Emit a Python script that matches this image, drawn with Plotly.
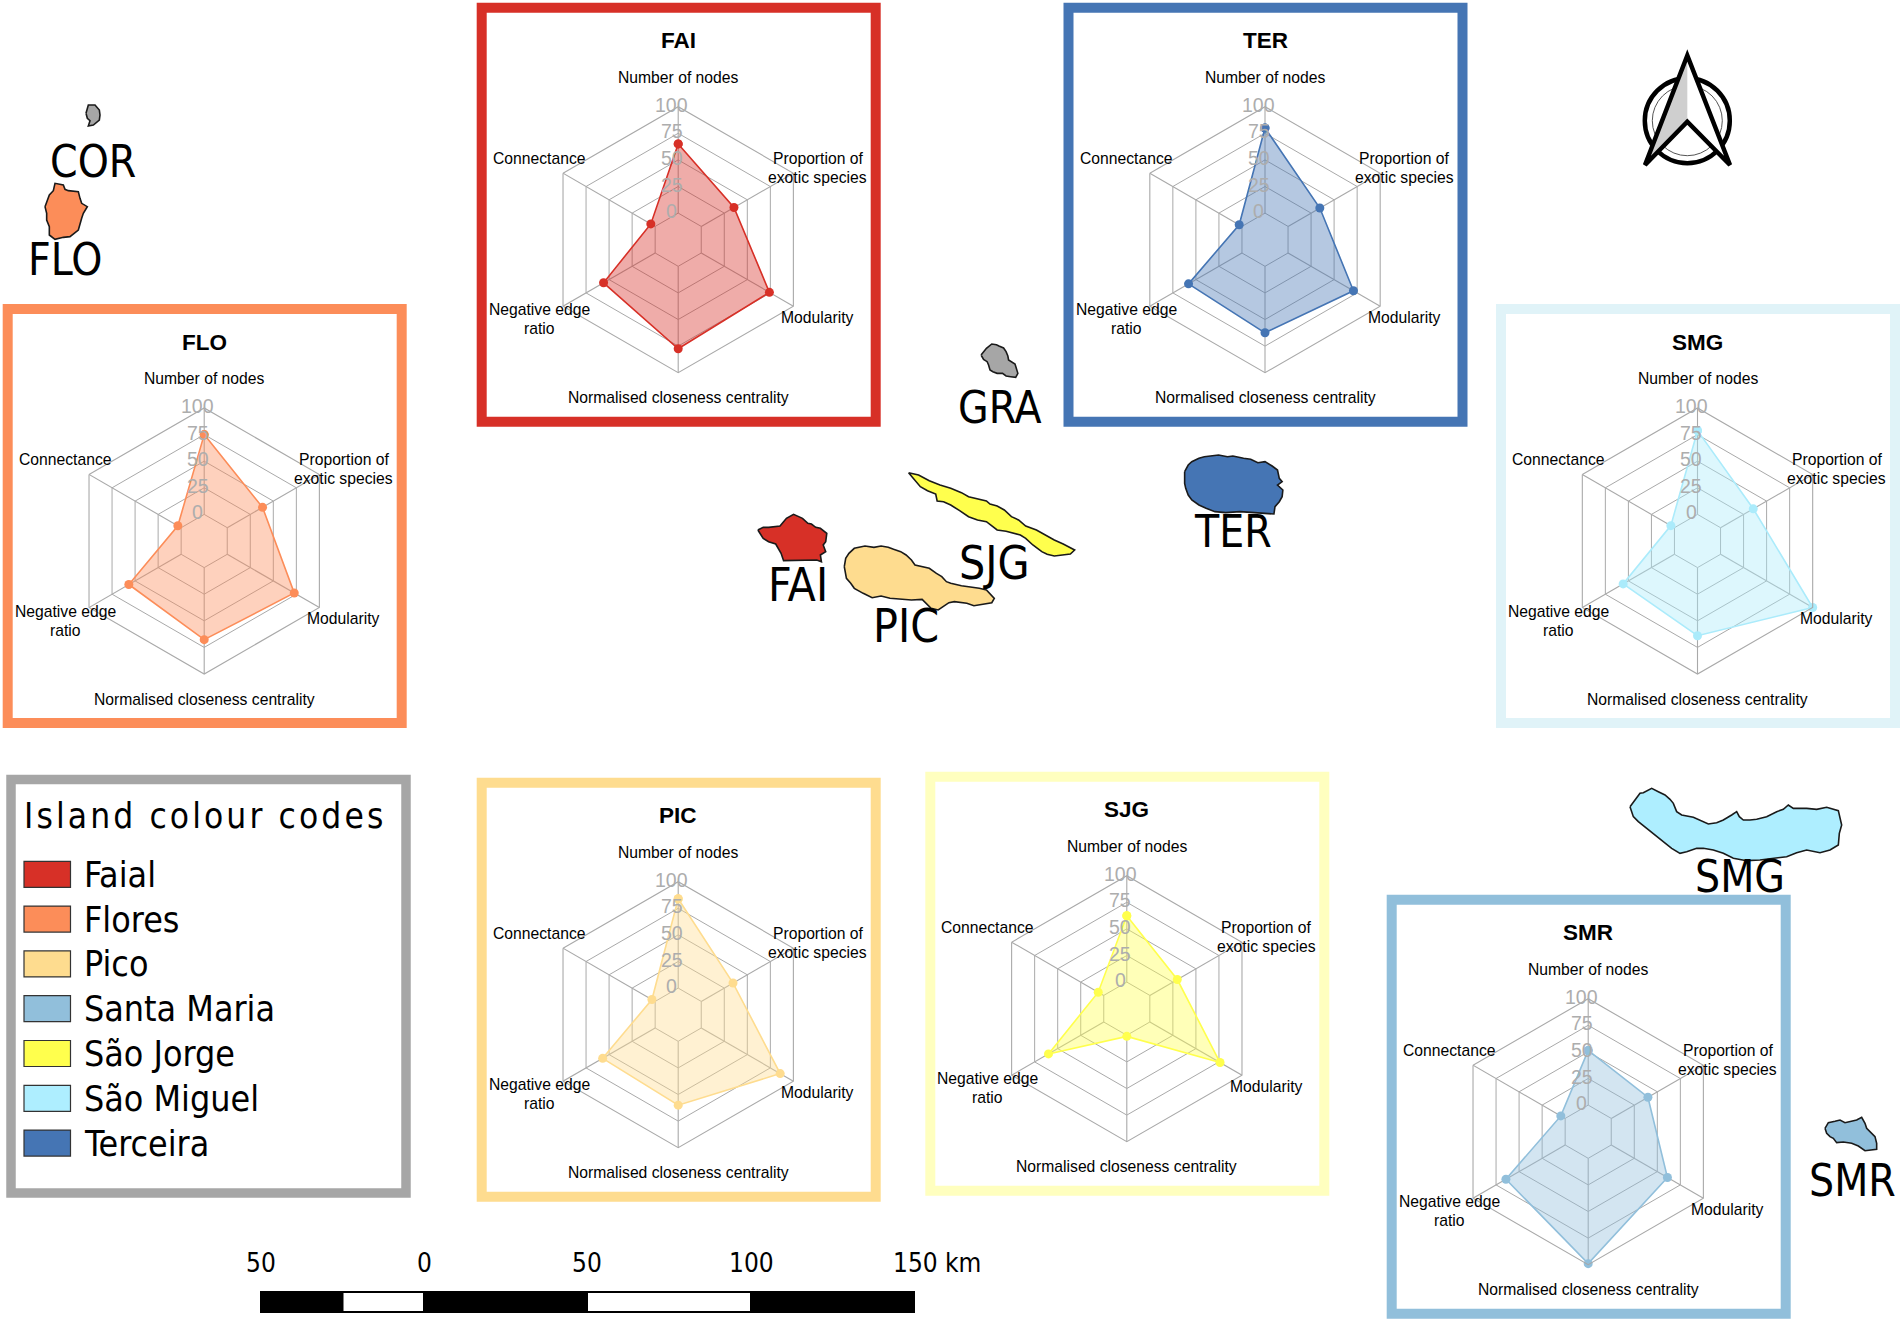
import plotly.graph_objects as go

W, H = 1902, 1320

# ---- radar data ----
axes_names = ["Number of nodes", "Proportion of exotic species", "Modularity",
              "Normalised closeness centrality", "Negative edge ratio", "Connectance"]
axis_lines = [["Number of nodes"], ["Proportion of", "exotic species"], ["Modularity"],
              ["Normalised closeness centrality"], ["Negative edge", "ratio"], ["Connectance"]]
radial_ticks = [0, 25, 50, 75, 100]

island_codes = ["FAI", "TER", "FLO", "SMG", "PIC", "SJG", "SMR"]
FAI_values = [65, 35.5, 74, 77.5, 56, 4.7]
TER_values = [80, 34.5, 71, 62.5, 58, 3]
FLO_values = [75, 38.3, 72.7, 67.7, 56.8, 3.6]
SMG_values = [78.7, 35.5, 100, 64, 55.7, 3.9]
PIC_values = [84, 34.5, 85.7, 60, 57, 3.5]
SJG_values = [62.4, 29.8, 76.2, 1, 60, 6]
SMR_values = [51.4, 39.8, 61, 99, 64.3, 4.7]

values = dict(FAI=FAI_values, TER=TER_values, FLO=FLO_values, SMG=SMG_values,
              PIC=PIC_values, SJG=SJG_values, SMR=SMR_values)
frame_colour = dict(FAI="#d73027", TER="#4575b4", FLO="#fc8d59", SMG="#e0f3f8",
                    PIC="#fedc8f", SJG="#ffffbf", SMR="#91bfdb")
radar_colour = dict(FAI="#d73027", TER="#4575b4", FLO="#fc8d59", SMG="#abebfb",
                    PIC="#fedc8f", SJG="#ffff4d", SMR="#91bfdb")
frame_left = dict(FAI=476.7, TER=1063.5, FLO=2.7, SMG=1496, PIC=476.7, SJG=925.3, SMR=1386.7)
frame_top = dict(FAI=2.7, TER=2.7, FLO=304, SMG=304, PIC=777.7, SJG=771.7, SMR=894.7)
FRAME_W, FRAME_H, FRAME_LW = 404, 424, 10
R = 133
GRID = "#a9a9a9"
# the zero ring sits one ring away from the radar centre
ZERO_RING = 25

# ---- legend and scale ----
legend_names = ["Faial", "Flores", "Pico", "Santa Maria", "São Jorge", "São Miguel", "Terceira"]
legend_colours = ["#d73027", "#fc8d59", "#fedc8f", "#91bfdb", "#ffff4d", "#aeeeff", "#4575b4"]
scale_labels = ["50", "0", "50", "100"]
scale_label_x = [261, 424.5, 587, 751]

# ---- island outlines, in map pixels ----
def from_crop(x0, y0, sx, sy, pts):
    return [x0 + p[0] / sx for p in pts], [y0 + p[1] / sy for p in pts]

GRA_xy = from_crop(740, 320, 2.8, 3, [(675,105),(682,95),(690,85),(705,72),(718,74),(725,78),(738,84),(745,95),(750,108),(752,120),(765,128),(770,132),(778,160),(772,172),(758,170),(745,168),(735,160),(720,160),(708,155),(700,150),(696,135),(692,125),(682,118)])
SJG_xy = from_crop(740, 320, 2.8, 3, [(472,458),(500,465),(530,482),(560,495),(590,505),(620,518),(640,530),(660,535),(690,543),(700,552),(720,558),(740,570),(760,590),(780,600),(800,618),(830,630),(855,645),(880,660),(905,672),(937,690),(925,702),(900,705),(880,708),(860,703),(845,695),(820,675),(800,655),(785,645),(770,640),(745,634),(720,630),(705,618),(690,605),(665,600),(640,590),(615,572),(590,555),(570,545),(552,543),(548,522),(525,512),(505,500),(488,480)])
FAI_xy = from_crop(740, 320, 2.8, 3, [(50,630),(65,622),(80,622),(98,620),(112,618),(122,605),(130,595),(150,583),(165,590),(175,595),(190,610),(200,612),(212,622),(225,625),(243,640),(240,655),(240,665),(233,675),(240,695),(225,705),(228,725),(215,720),(170,722),(122,722),(115,700),(110,690),(100,672),(80,665),(65,655)])
PIC_xy = from_crop(740, 320, 2.8, 3, [(292,740),(296,715),(305,700),(320,685),(350,678),(375,682),(395,678),(415,682),(430,688),(450,695),(465,705),(480,720),(490,735),(510,740),(530,745),(550,760),(565,770),(578,785),(590,790),(620,797),(640,800),(670,805),(690,810),(712,835),(705,848),(680,852),(655,857),(635,850),(620,848),(600,845),(585,848),(570,858),(555,870),(535,865),(525,855),(510,838),(480,840),(450,838),(420,835),(395,828),(370,833),(345,820),(320,805),(310,790),(298,775)])
TER_xy = from_crop(740, 320, 2.8, 3, [(1245,455),(1255,435),(1265,425),(1285,415),(1300,410),(1340,405),(1365,410),(1380,408),(1410,415),(1430,418),(1450,428),(1470,425),(1490,438),(1505,450),(1510,475),(1518,485),(1505,495),(1520,510),(1518,530),(1510,545),(1498,560),(1495,582),(1470,580),(1440,578),(1400,575),(1360,578),(1330,575),(1305,565),(1285,555),(1265,540),(1255,525),(1248,505),(1245,490)])
SMG_xy = from_crop(1600, 770, 3, 3, [(90,110),(105,90),(120,70),(130,68),(155,55),(175,65),(195,75),(210,88),(220,100),(230,125),(245,135),(280,142),(300,150),(325,162),(350,158),(370,150),(395,135),(410,125),(418,140),(430,150),(450,150),(470,148),(500,140),(530,125),(550,118),(565,105),(580,115),(620,115),(650,118),(680,112),(715,122),(725,165),(718,190),(715,225),(690,240),(660,248),(620,240),(590,248),(560,260),(520,265),(480,270),(440,272),(400,265),(370,250),(340,240),(310,235),(290,235),(260,245),(240,250),(215,235),(190,215),(165,195),(140,175),(115,155),(100,140)])
COR_xy = from_crop(0, 90, 3, 3, [(258,70),(262,55),(265,45),(285,45),(298,60),(300,75),(298,90),(280,105),(265,108),(270,92),(262,85)])
FLO_xy = from_crop(0, 90, 3, 3, [(135,350),(148,315),(160,302),(165,280),(190,285),(195,298),(205,302),(235,305),(240,325),(245,340),(262,350),(250,370),(245,385),(240,405),(235,420),(210,440),(190,442),(165,448),(148,435),(148,410),(140,390),(140,370)])
SMR_xy = from_crop(1780, 1100, 3, 3, [(135,85),(145,68),(165,64),(180,60),(195,68),(210,65),(230,60),(245,52),(255,70),(260,85),(275,100),(285,110),(290,130),(290,148),(255,152),(235,138),(215,130),(190,126),(170,128),(160,115),(150,110),(140,100)])

islands = [("GRA", GRA_xy, "#a6a6a6"), ("SJG", SJG_xy, "#ffff4d"), ("FAI", FAI_xy, "#d73027"),
           ("PIC", PIC_xy, "#fedc8f"), ("TER", TER_xy, "#4575b4"), ("SMG", SMG_xy, "#aeeeff"),
           ("COR", COR_xy, "#a6a6a6"), ("FLO", FLO_xy, "#fc8d59"), ("SMR", SMR_xy, "#91bfdb")]
island_label_text = ["GRA", "TER", "FAI", "PIC", "SJG", "SMG", "COR", "FLO", "SMR"]
island_label_x = [999, 1233, 797.5, 906, 994.5, 1740, 93, 65, 1852]
island_label_y = [407, 531, 585, 625.5, 562.5, 876, 161, 259, 1180]
island_label_size = [44, 44, 46, 46, 46, 44, 44, 44, 44]

# north arrow geometry in map pixels
arrow_x = [1687.3, 1645, 1687.3, 1730]
arrow_y = [55.5, 165, 121.7, 165]
arrow_cx, arrow_cy = 1687.3, 120.7

MAP_FONT = "DejaVu Sans Condensed, Noto Sans, sans-serif"
CHART_FONT = "Liberation Sans, Arial, sans-serif"

fig = go.Figure()
shapes = []
annotations = []

def note(x, y, text, size, colour="#000000", family=MAP_FONT, anchor="center"):
    annotations.append(dict(x=x, y=y, xref="x", yref="y", text=text, showarrow=False,
                            xanchor=anchor, yanchor="middle", align="center",
                            font=dict(size=size, color=colour, family=family)))

# map axes, one data unit = one pixel
fig.add_trace(go.Scatter(x=[0, W], y=[0, H], mode="markers", marker=dict(opacity=0),
                         hoverinfo="skip", showlegend=False))
for name, (xs, ys), colour in islands:
    fig.add_trace(go.Scatter(x=xs + xs[:1], y=ys + ys[:1], mode="lines", fill="toself",
                             fillcolor=colour, line=dict(color="#1a1a1a", width=1.6),
                             hoverinfo="skip", showlegend=False, name=name))
for t, x, y, s in zip(island_label_text, island_label_x, island_label_y, island_label_size):
    note(x, y, t, s)

# radars
label_dx = [0, 139.3, 139.3, 0, -139, -139]
label_dy = [[-162.5], [-81.7, -62.7], [77.3], [158], [70, 89], [-81.7]]
spoke_theta = [a for name in axes_names for a in (name, name, None)]
spoke_r = [v for _ in axes_names for v in (ZERO_RING, 100 + ZERO_RING, None)]
polar_layouts = {}
for i, code in enumerate(island_codes):
    left, top = frame_left[code], frame_top[code]
    lw = FRAME_LW
    shapes.append(dict(type="rect", xref="x", yref="y", x0=left + lw / 2, x1=left + FRAME_W - lw / 2,
                       y0=top + lw / 2, y1=top + FRAME_H - lw / 2, line=dict(color=frame_colour[code], width=lw),
                       layer="below"))
    cx, cy = left + 201.5, top + 237
    key = "polar" if i == 0 else f"polar{i + 1}"
    polar_layouts[key] = dict(
        domain=dict(x=[(cx - R) / W, (cx + R) / W], y=[1 - (cy + R) / H, 1 - (cy - R) / H]),
        bgcolor="rgba(0,0,0,0)", gridshape="linear",
        radialaxis=dict(range=[0, 100 + ZERO_RING], tickvals=[t + ZERO_RING for t in radial_ticks],
                        showticklabels=False, ticks="",
                        showline=False, gridcolor=GRID, gridwidth=1.1, angle=90),
        angularaxis=dict(direction="clockwise", rotation=90, type="category",
                         categoryorder="array", categoryarray=axes_names,
                         showticklabels=False, ticks="", showgrid=False,
                         linecolor=GRID, linewidth=1.1, showline=True))
    # spokes start at the zero ring, the middle of each radar stays free of them
    fig.add_trace(go.Scatterpolar(r=spoke_r, theta=spoke_theta, subplot=key, mode="lines",
                                  line=dict(color=GRID, width=1.1), connectgaps=False,
                                  hoverinfo="skip", showlegend=False))
    v = values[code]
    colour = radar_colour[code]
    c = colour.lstrip("#")
    rgba = "rgba(%d,%d,%d,0.4)" % (int(c[:2], 16), int(c[2:4], 16), int(c[4:], 16))
    fig.add_trace(go.Scatterpolar(r=[x + ZERO_RING for x in v + v[:1]], theta=axes_names + axes_names[:1],
                                  subplot=key, mode="lines+markers", fill="toself", fillcolor=rgba,
                                  line=dict(color=colour, width=1.6), marker=dict(color=colour, size=9),
                                  hoverinfo="skip", showlegend=False, name=code))
    note(cx, cy - 199, f"<b>{code}</b>", 22.5, family=CHART_FONT)
    for lines, dx, dys in zip(axis_lines, label_dx, label_dy):
        for line, dy in zip(lines, dys):
            note(cx + dx, cy + dy, line, 15.7, family=CHART_FONT)
    for tick in radial_ticks:
        dist = R * 0.2 + tick / 100 * R * 0.8
        note(cx - 6.5, cy - dist - 2, str(tick), 19.5, colour="#adadad", family=CHART_FONT)

# legend box
shapes.append(dict(type="rect", xref="x", yref="y", x0=11, x1=406, y0=779.5, y1=1193,
                   line=dict(color="#a6a6a6", width=9.5), layer="below"))
note(21.5, 816, '<span style="letter-spacing:3.1px">Island colour codes</span>', 35, anchor="left")
for i, (name, colour) in enumerate(zip(legend_names, legend_colours)):
    yc = 874.3 + i * 44.8
    shapes.append(dict(type="rect", xref="x", yref="y", x0=24, x1=70.5, y0=yc - 13, y1=yc + 13,
                       fillcolor=colour, line=dict(color="#333333", width=1.2), layer="below"))
    note(81.5, yc, name, 35.5, anchor="left")

# scale bar
shapes.append(dict(type="rect", xref="x", yref="y", x0=260, x1=915, y0=1291, y1=1313,
                   fillcolor="#000000", line=dict(width=0), layer="below"))
for x0, x1 in [(343.5, 423), (588, 750)]:
    shapes.append(dict(type="rect", xref="x", yref="y", x0=x0, x1=x1, y0=1293, y1=1311,
                       fillcolor="#ffffff", line=dict(width=0), layer="below"))
for t, x in zip(scale_labels, scale_label_x):
    note(x, 1263, t, 26)
note(890.5, 1263, "150 km", 26, anchor="left")

# north arrow
shapes.append(dict(type="circle", xref="x", yref="y", x0=arrow_cx - 42.5, x1=arrow_cx + 42.5,
                   y0=arrow_cy - 42.5, y1=arrow_cy + 42.5, line=dict(color="#000000", width=4.5),
                   fillcolor="#ffffff", layer="below"))
shapes.append(dict(type="circle", xref="x", yref="y", x0=arrow_cx - 35, x1=arrow_cx + 35,
                   y0=arrow_cy - 35, y1=arrow_cy + 35, line=dict(color="#555555", width=1), layer="below"))
def path(xs, ys):
    return "M " + " L ".join(f"{a} {b}" for a, b in zip(xs, ys)) + " Z"
shapes.append(dict(type="path", xref="x", yref="y", path=path(arrow_x, arrow_y),
                   fillcolor="#ffffff", line=dict(width=0), layer="below"))
shapes.append(dict(type="path", xref="x", yref="y", path=path(arrow_x[:3], arrow_y[:3]),
                   fillcolor="#cfcfcf", line=dict(width=0), layer="below"))
shapes.append(dict(type="path", xref="x", yref="y", path=path(arrow_x, arrow_y),
                   line=dict(color="#000000", width=4.5), layer="below"))

fig.update_layout(
    width=W, height=H, margin=dict(l=0, r=0, t=0, b=0, pad=0),
    paper_bgcolor="#ffffff", plot_bgcolor="rgba(0,0,0,0)", showlegend=False,
    xaxis=dict(range=[0, W], domain=[0, 1], visible=False, fixedrange=True),
    yaxis=dict(range=[H, 0], domain=[0, 1], visible=False, fixedrange=True),
    shapes=shapes, annotations=annotations, **polar_layouts)

fig.write_html("out.html", config=dict(displayModeBar=False),
               post_script="document.body.style.margin='0';document.body.style.overflow='hidden';")
